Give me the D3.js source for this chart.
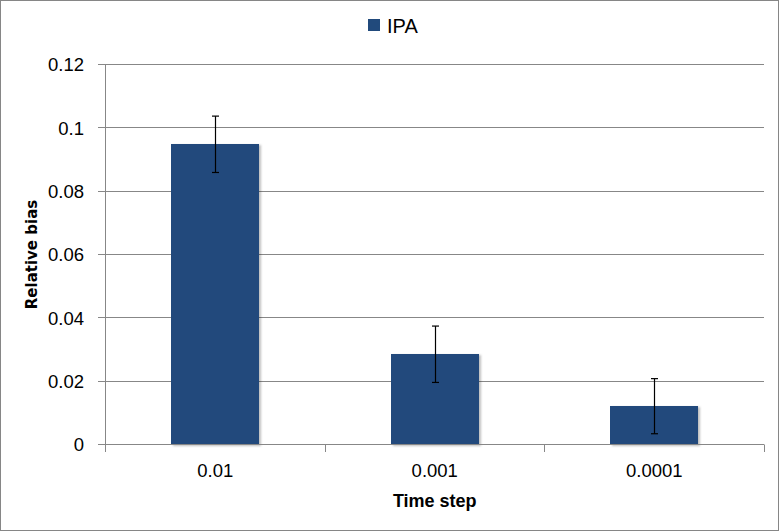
<!DOCTYPE html>
<html>
<head>
<meta charset="utf-8">
<script src="https://cdn.jsdelivr.net/npm/d3@7"></script>
<style>
html,body{margin:0;padding:0;background:#fff;}
svg{display:block;}
</style>
</head>
<body>
<svg id="chart" width="779" height="531"></svg>
<script>
const categories = ["0.01", "0.001", "0.0001"];
const seriesName = "IPA";
const values = [0.0948, 0.0285, 0.0121];
const errors = [0.0089, 0.0089, 0.0087];
const yTicks = [0, 0.02, 0.04, 0.06, 0.08, 0.1, 0.12];
const yTickLabels = ["0", "0.02", "0.04", "0.06", "0.08", "0.1", "0.12"];

(function () {
const W = 779, H = 531;
const svg = d3.select("#chart");
const pLeft = 105.5, pRight = 764, pTop = 64.5, pBottom = 444.5;
const barColor = "#214A7C";
const gridColor = "#878787";
const font = "'Liberation Sans', Arial, sans-serif";

const defs = svg.append("defs");
const f = defs.append("filter").attr("id", "sh").attr("x", "-10%").attr("y", "-10%").attr("width", "130%").attr("height", "130%");
f.append("feDropShadow").attr("dx", 2).attr("dy", 1).attr("stdDeviation", 1).attr("flood-color", "#000").attr("flood-opacity", 0.25);

// outer border
svg.append("rect").attr("x", 0.5).attr("y", 0.5).attr("width", W - 1).attr("height", H - 1)
  .attr("fill", "#fff").attr("stroke", "#868686").attr("stroke-width", 1);

const x = d3.scaleBand().domain(categories).range([pLeft, pRight]).paddingInner(0.6).paddingOuter(0.3);
const y = d3.scaleLinear().domain([0, 0.12]).range([pBottom, pTop]);
const py = v => Math.round(y(v) - 0.5) + 0.5;

// gridlines
svg.append("g").selectAll("line").data(yTicks).join("line")
  .attr("x1", 98).attr("x2", pRight).attr("y1", d => py(d)).attr("y2", d => py(d))
  .attr("stroke", gridColor).attr("stroke-width", 1);

const yAxis = d3.axisLeft(y).tickValues(yTicks).tickSize(0).tickFormat((d, i) => yTickLabels[i]);
const gy = svg.append("g").attr("transform", `translate(84,0)`).call(yAxis);
gy.select(".domain").remove();
gy.selectAll("text").attr("font-family", font).attr("font-size", "18.5px").attr("fill", "#000")
  .attr("x", 0).attr("dy", "0.35em");

// bars
svg.append("g").selectAll("rect").data(values).join("rect")
  .attr("x", (d, i) => Math.round(x(categories[i])))
  .attr("width", Math.round(x.bandwidth()))
  .attr("y", d => Math.round(y(d)))
  .attr("height", d => Math.round(y(0)) - Math.round(y(d)))
  .attr("fill", barColor)
  .attr("filter", "url(#sh)");

// axis lines
svg.append("line").attr("x1", pLeft).attr("x2", pLeft).attr("y1", pTop - 0.5).attr("y2", 452)
  .attr("stroke", gridColor);
svg.append("line").attr("x1", 98).attr("x2", pRight).attr("y1", py(0)).attr("y2", py(0))
  .attr("stroke", gridColor);
// category boundary ticks
const bounds = categories.map(c => x(c) - x.step() * 0.3).concat([pRight]);
svg.append("g").selectAll("line").data(bounds).join("line")
  .attr("x1", d => Math.round(d - 0.5) + 0.5).attr("x2", d => Math.round(d - 0.5) + 0.5)
  .attr("y1", py(0)).attr("y2", 452).attr("stroke", gridColor);

// x labels
const xAxis = d3.axisBottom(x).tickSize(0);
const gx = svg.append("g").attr("transform", `translate(0,${pBottom})`).call(xAxis);
gx.select(".domain").remove();
gx.selectAll("text").attr("font-family", font).attr("font-size", "18.5px").attr("fill", "#000")
  .attr("y", 0).attr("dy", "32px");

// error bars
const eb = svg.append("g").attr("stroke", "#000").attr("stroke-width", 1.2);
values.forEach((v, i) => {
  const cx = Math.round(x(categories[i]) + x.bandwidth() / 2) + 0.5;
  const y1 = y(v + errors[i]), y2 = y(v - errors[i]);
  eb.append("line").attr("x1", cx).attr("x2", cx).attr("y1", y1).attr("y2", y2);
  eb.append("line").attr("x1", cx - 3.5).attr("x2", cx + 3.5).attr("y1", y1).attr("y2", y1);
  eb.append("line").attr("x1", cx - 3.5).attr("x2", cx + 3.5).attr("y1", y2).attr("y2", y2);
});

// axis titles
svg.append("text").attr("x", (pLeft + pRight) / 2).attr("y", 507)
  .attr("text-anchor", "middle").attr("font-family", font).attr("font-weight", "bold")
  .attr("font-size", "18px").text("Time step");
svg.append("text").attr("transform", `translate(37,${(pTop + pBottom) / 2}) rotate(-90)`)
  .attr("text-anchor", "middle").attr("font-family", "'DejaVu Sans', Verdana, sans-serif").attr("font-weight", "bold")
  .attr("font-size", "15px").text("Relative bias");

// legend
svg.append("rect").attr("x", 368).attr("y", 19).attr("width", 12).attr("height", 12).attr("fill", barColor);
svg.append("text").attr("x", 387).attr("y", 33).attr("font-family", font).attr("font-size", "20px")
  .attr("fill", "#000").text(seriesName);
})();
</script>
</body>
</html>
